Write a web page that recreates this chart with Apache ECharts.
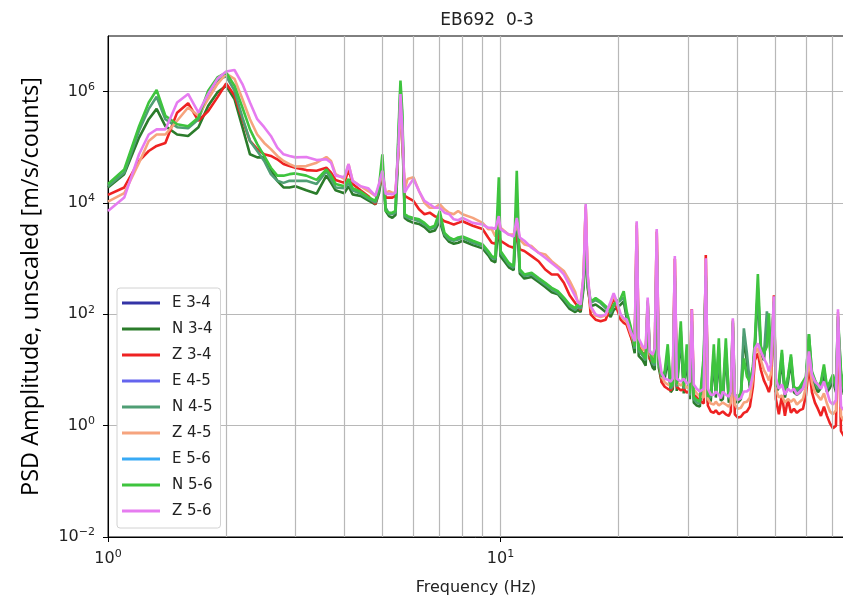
<!DOCTYPE html>
<html><head><meta charset="utf-8">
<script src="https://cdn.jsdelivr.net/npm/echarts@6/dist/echarts.min.js"></script>
<style>html,body{margin:0;padding:0;background:#fff}#c{width:843px;height:598px}</style>
</head><body><div id="c"></div>
<script>
// Frequency samples (Hz)
const freq = [
 1.0,1.1,1.2,1.27,1.33,1.4,1.5,1.6,1.7,1.8,1.9,2.0,2.1,2.2,2.3,2.4,2.5,2.6,2.7,2.8,2.9,3.0,
 3.2,3.4,3.6,3.7,3.8,4.0,4.1,4.2,4.4,4.6,4.8,4.9,5.0,5.1,
 5.2,5.3,5.4,5.5,5.56,5.62,5.7,5.8,6.0,6.2,6.4,6.6,6.8,7.0,7.2,7.4,7.6,7.8,8.0,8.5,9.0,9.3,9.5,9.7,9.9,10.0,10.5,10.8,11.0,11.2,11.5,12,12.5,13,13.5,14,14.5,15,15.5,
 15.72,16.0,16.28,16.48,16.67,16.97,17.47,17.99,18.53,19.08,
 19.42,19.77,20.24,20.6,20.96,21.46,21.97,22.23,22.49,23.02,
 23.43,23.71,23.99,24.42,24.71,25.0,25.3,25.74,26.2,26.67,
 27.14,27.47,27.8,28.12,28.79,29.3,29.82,30.35,30.71,31.07,
 31.62,32.19,32.95,33.34,33.74,34.33,34.95,35.36,35.99,36.41,
 36.84,37.5,38.16,38.61,39.07,39.53,40.23,40.95,41.68,42.43,
 43.18,43.95,44.46,45.25,46.06,46.88,47.71,48.28,48.85,49.72,
 50.29,51.19,52.1,53.03,53.97,54.94,55.91,56.9,57.92,58.94,
 59.99,61.05,62.14,63.24,64.37,65.51,66.68,67.86,69.07,70.3,
 71.55,72.4,73.69,75.0
];
const E34 = [];
const N34 = [
 1.9e4,3.3e4,1.5e5,3.2e5,4.9e5,2.4e5,1.7e5,1.6e5,2.3e5,5.6e5,9.7e5,1.28e6,7.4e5,2.3e5,7.5e4,6.6e4,6.6e4,4.0e4,2.5e4,1.9e4,1.9e4,2.0e4,
 1.69e4,1.47e4,3.1e4,2.3e4,1.69e4,1.5e4,2.0e4,1.43e4,1.34e4,1.12e4,9.5e3,1.47e4,3.5e4,7.2e3,
 5.8e3,5.4e3,6.1e3,1.14e5,6.9e5,2.0e5,5.4e3,4.9e3,4.4e3,4.2e3,3.7e3,3.0e3,3.2e3,4.7e3,2.5e3,2.0e3,1.85e3,1.93e3,2.1e3,1.75e3,1.53e3,1.16e3,920,860,4.7e3,1.11e3,700,620,5.4e3,540,440,470,380,310,250,230,170,125,110,
 120,110,300,2000,300,140,150,130,110,90,
 120,130,150,170,85,45,20,1500,18,15,
 12,120,16,11,10,1200,11,6.0,7.0,16,
 4.0,4.5,400,4.2,40,3.8,16,3.0,50,2.6,
 2.3,2.2,12,400,2.6,2.8,16,3.2,20,2.8,
 3.0,20,2.6,3.2,50,2.8,2.6,3.0,40,14,
 4.8,9.0,24,250,20,15,60,50,13,120,
 4.0,4.8,16,3.2,6.0,14,4.0,3.6,4.0,4.8,
 6.0,35,7.0,5.0,4.0,4.8,9.0,4.0,4.8,6.5,
 4.0,70,7.0,3.6
];
const Z34 = [
 1.4e4,1.9e4,5.7e4,8.6e4,1.06e5,1.2e5,4.2e5,6.2e5,3.0e5,4.5e5,7.9e5,1.4e6,8.5e5,3.2e5,1.3e5,9.3e4,7.5e4,7.0e4,6.1e4,5.0e4,4.6e4,4.3e4,
 3.9e4,3.8e4,4.3e4,3.5e4,2.6e4,2.3e4,4.0e4,2.2e4,1.69e4,1.34e4,9.5e3,1.76e4,3.1e4,1.25e4,
 1.25e4,1.25e4,1.34e4,9.9e4,7.9e5,1.7e5,1.34e4,1.25e4,1.09e4,7.7e3,6.3e3,6.7e3,5.8e3,5.4e3,4.7e3,4.4e3,4.1e3,4.4e3,4.7e3,3.9e3,3.4e3,2.4e3,1.93e3,1.85e3,2.7e3,2.1e3,1.68e3,1.57e3,2.7e3,1.47e3,1.37e3,1.11e3,900,640,520,520,370,220,160,
 140,120,450,8500,450,100,80,75,80,140,
 200,130,80,70,65,40,26,4000,28,20,
 19,160,16,14,18,3000,14,6.0,5.0,4.6,
 4.3,5.0,1000,5.0,4.3,4.6,3.9,4.3,125,3.6,
 3.2,2.8,2.5,1160,2.3,1.8,1.7,1.9,1.6,1.5,
 1.8,1.6,1.5,1.8,70,1.6,1.4,1.45,1.7,1.8,
 2.2,5.0,15,20,10,6.5,5.0,4.0,5.5,220,
 3.0,1.6,3.5,1.5,3.0,1.7,2.0,1.7,1.9,2.0,
 3.5,12,4.0,2.6,2.0,1.5,2.2,1.5,1.1,0.9,
 1.0,90,0.8,0.65
];
const E45 = [];
const N45 = [
 2.0e4,3.5e4,2.0e5,4.9e5,8.1e5,3.2e5,2.3e5,2.2e5,3.2e5,9.1e5,1.6e6,1.9e6,1.04e6,3.45e5,1.3e5,8.6e4,5.7e4,3.3e4,2.5e4,2.3e4,2.5e4,2.5e4,
 2.5e4,2.2e4,3.7e4,2.7e4,1.9e4,1.84e4,2.3e4,1.69e4,1.47e4,1.21e4,1.01e4,1.64e4,4.3e4,8.2e3,
 6.3e3,6.3e3,6.7e3,1.7e5,1.2e6,3.4e5,5.8e3,5.4e3,5.1e3,4.7e3,4.1e3,3.4e3,3.6e3,5.4e3,2.7e3,2.2e3,2.1e3,2.2e3,2.4e3,1.93e3,1.68e3,1.28e3,1.04e3,970,1.09e4,1.28e3,780,680,1.09e4,600,490,520,420,340,280,240,190,140,120,
 140,125,350,2500,350,160,180,160,130,105,
 140,160,180,200,100,55,24,1800,22,18,
 15,150,20,13,12,1400,13,7.0,8.5,20,
 4.6,5.2,450,5.0,50,4.6,20,3.5,60,3.0,
 2.6,2.5,15,450,3.0,3.3,20,3.8,25,3.3,
 3.5,25,3.0,3.8,60,3.3,3.0,3.5,56,20,
 5.6,10.5,28,300,24,18,113,60,16,150,
 4.6,5.6,20,3.8,7.0,17,4.6,4.2,4.6,5.6,
 7.0,44,8.5,6.0,4.6,5.6,11,4.6,5.6,7.5,
 4.6,80,8.5,4.2
];
const Z45 = [
 1.06e4,1.5e4,5.3e4,1.3e5,1.7e5,1.7e5,3.0e5,5.2e5,3.7e5,7.4e5,1.37e6,2.1e6,1.7e6,7.4e5,3.2e5,1.7e5,1.2e5,9.3e4,7.0e4,5.7e4,5.0e4,4.5e4,
 4.6e4,5.3e4,6.7e4,5.7e4,3.3e4,2.7e4,5.0e4,2.5e4,2.0e4,1.64e4,1.34e4,2.0e4,3.5e4,1.5e4,
 1.64e4,1.53e4,1.53e4,9.9e4,6.9e5,1.7e5,1.76e4,2.7e4,2.9e4,1.64e4,1.01e4,8.2e3,8.2e3,9.5e3,7.7e3,6.7e3,6.3e3,7.2e3,6.3e3,5.4e3,4.4e3,3.4e3,3.4e3,2.5e3,4.7e3,3.6e3,2.7e3,2.7e3,4.1e3,2.2e3,1.8e3,1.68e3,1.28e3,1.19e3,900,730,600,400,250,
 170,160,500,9000,500,130,95,90,95,160,
 220,160,95,80,75,45,30,4400,33,24,
 22,180,19,17,22,3200,17,7.5,6.0,5.5,
 5.3,6.0,1000,6.0,5.3,5.8,4.8,5.0,120,4.5,
 3.8,3.4,3.2,1000,3.0,2.5,2.4,2.7,2.3,2.2,
 2.6,2.4,2.2,2.6,80,2.4,2.0,2.1,2.6,2.7,
 3.2,7.0,20,25,15,10,8.0,6.5,8.5,190,
 4.5,3.2,3.5,2.6,3.0,2.7,3.0,2.4,2.7,3.0,
 5.0,15,6.0,4.0,3.4,2.9,3.8,2.5,1.8,1.6,
 1.9,110,1.5,1.2
];
const E56 = [];
const N56 = [
 2.2e4,4.0e4,2.4e5,6.4e5,1.07e6,3.7e5,2.6e5,2.4e5,3.45e5,1.04e6,1.8e6,2.2e6,1.28e6,5.2e5,2.1e5,1.14e5,7.0e4,4.3e4,3.1e4,3.1e4,3.3e4,3.4e4,
 3.1e4,2.6e4,4.0e4,3.1e4,2.2e4,2.0e4,2.7e4,1.84e4,1.6e4,1.28e4,1.09e4,1.9e4,7.5e4,7.2e3,
 6.7e3,6.7e3,7.2e3,2.3e5,1.58e6,4.5e5,6.3e3,5.8e3,5.4e3,5.1e3,4.4e3,3.6e3,3.9e3,7.2e3,2.9e3,2.4e3,2.2e3,2.4e3,2.5e3,2.1e3,1.8e3,1.37e3,1.11e3,1.04e3,2.9e4,1.37e3,840,730,3.8e4,640,520,560,450,370,300,260,200,150,130,
 150,140,390,3000,390,170,195,170,140,113,
 150,170,195,260,113,60,26.5,2000,24.4,20,
 16.1,170,23,14.2,13.5,1500,14.2,7.6,9.4,29,
 5.0,5.7,500,5.5,75,5.0,29,3.8,75,3.3,
 2.9,2.7,19,500,3.3,3.6,29,4.1,37,3.6,
 3.8,37,3.3,4.1,75,3.6,3.3,3.8,16.1,7.6,
 6.2,11.6,33,530,26.5,20,26.5,104,17.5,170,
 5.0,6.2,23,4.1,7.6,19,5.0,4.6,5.0,6.2,
 7.6,44,9.4,6.7,5.0,6.2,12.6,5.0,6.2,8.3,
 5.0,92,9.4,4.6
];
const Z56 = [
 7.2e3,1.25e4,7.5e4,1.7e5,2.1e5,2.1e5,6.4e5,9.1e5,4.2e5,9.1e5,1.7e6,2.3e6,2.45e6,1.37e6,6.4e5,3.2e5,2.3e5,1.6e5,9.9e4,7.5e4,7.0e4,6.6e4,
 6.7e4,5.9e4,6.1e4,5.3e4,3.1e4,2.9e4,5.0e4,2.5e4,2.0e4,1.84e4,1.34e4,2.2e4,3.8e4,1.45e4,
 1.47e4,1.43e4,1.53e4,1.14e5,9.1e5,2.3e5,1.53e4,1.9e4,2.7e4,1.64e4,1.09e4,9.5e3,8.2e3,8.2e3,6.7e3,6.3e3,5.1e3,4.9e3,5.4e3,4.4e3,4.1e3,3.6e3,3.6e3,3.4e3,5.8e3,3.4e3,2.7e3,2.5e3,5.4e3,2.4e3,2.1e3,1.57e3,1.28e3,1.04e3,840,680,520,330,210,
 170,150,530,9600,530,140,100,92,100,170,
 240,170,100,85,81,49,33,4700,37,26.5,
 24.4,200,21.5,19,24.4,3400,19,8.6,7.0,6.7,
 6.2,7.0,1110,7.0,6.2,7.0,5.7,6.2,123,5.5,
 4.6,4.1,4.6,1020,4.6,3.6,3.6,4.1,3.6,3.1,
 4.1,3.6,3.3,4.1,85,3.6,2.9,3.1,4.1,4.1,
 4.6,8.3,24.4,30,21.5,16.1,12.6,9.4,12.6,210,
 7.0,4.6,5.5,3.6,4.6,4.1,4.6,3.6,4.1,4.6,
 7.0,21.5,8.3,6.2,5.5,4.6,6.2,4.1,2.7,2.4,
 2.9,123,2.2,1.9
];

const seriesNames = ['E 3-4','N 3-4','Z 3-4','E 4-5','N 4-5','Z 4-5','E 5-6','N 5-6','Z 5-6'];
const seriesValues = [E34, N34, Z34, E45, N45, Z45, E56, N56, Z56];
const seriesColors = ['#3434a6','#2b7c2b','#ee2222','#6464ee','#4f9e74','#f6a47e','#38aaf5','#3ec43e','#e67cf0'];
const minorGridX = [2,3,4,5,6,7,8,9,20,30,40,50,60,70];
const yTickValues = [0.01, 1, 100, 1e4, 1e6];

const chart = echarts.init(document.getElementById('c'), null, {renderer:'canvas'});
const supFmt = (v, skipOdd) => {
  const l = Math.log10(v);
  const e = Math.round(l);
  if (Math.abs(l - e) > 1e-6) return '';
  if (skipOdd && Math.abs(e % 2) === 1) return '';
  return '{b|10}{s|' + (e < 0 ? '\u2212' + (-e) : e) + '}';
};
const rich = {
  b: {fontFamily:'DejaVu Sans', fontSize:16, color:'#222'},
  s: {fontFamily:'DejaVu Sans', fontSize:11, color:'#222', padding:[0,0,9,0]}
};
const gridLineStyle = {color:'#b8b8b8', width:1.2};

const series = seriesNames.map((name, i) => {
  const s = {
    name, type:'line', showSymbol:false, symbol:'none', color: seriesColors[i],
    lineStyle:{width:2.6, color: seriesColors[i]},
    data: freq.slice(0, seriesValues[i].length).map((f, k) => [f, seriesValues[i][k]]),
    z: 2
  };
  if (i === 0) {
    s.markLine = {silent:true, symbol:'none', label:{show:false}, animation:false,
      lineStyle:{color:'#b8b8b8', width:1.2, type:'solid'},
      data: minorGridX.map(v => ({xAxis: v}))};
  }
  return s;
});

chart.setOption({
  animation:false,
  backgroundColor:'#fff',
  title:{text:'EB692  0-3', left:482, top:7, textAlign:'center',
    textStyle:{fontFamily:'DejaVu Sans', fontSize:17, fontWeight:'normal', color:'#222'}},
  grid:{left:108, top:36, right:-1, bottom:61, show:true, borderColor:'#000', borderWidth:1,
    backgroundColor:'#fff', containLabel:false, outerBoundsMode:'none'},
  legend:{orient:'vertical', left:117, top:288, itemWidth:38, itemHeight:3, itemGap:8, icon:'rect',
    selectedMode:false, backgroundColor:'#fff', borderColor:'#d2d2d2', borderWidth:1, borderRadius:3,
    padding:[6,8,8,5],
    textStyle:{fontFamily:'DejaVu Sans', fontSize:15, color:'#222', lineHeight:18, padding:[0,0,0,7]},
    data: seriesNames},
  xAxis:{type:'log', logBase:10, min:1, max:75,
    name:'Frequency (Hz)', nameLocation:'middle', nameGap:43,
    nameTextStyle:{fontFamily:'DejaVu Sans', fontSize:16, color:'#222'},
    axisLine:{show:true, lineStyle:{color:'#000', width:1}},
    axisTick:{show:true, inside:false, length:5, lineStyle:{color:'#000'}},
    axisLabel:{margin:12, formatter: v => supFmt(v, false), rich},
    splitLine:{show:true, lineStyle:gridLineStyle}},
  yAxis:{type:'log', logBase:100, min:0.01, max:1e7,
    name:'PSD Amplitude, unscaled [m/s/counts]', nameLocation:'middle', nameGap:65, nameRotate:90,
    nameTextStyle:{fontFamily:'Open Sans', fontSize:23.5, color:'#000'},
    axisLine:{show:true, lineStyle:{color:'#000', width:1}},
    axisTick:{show:true, inside:false, length:5, lineStyle:{color:'#000'}, customValues: yTickValues},
    axisLabel:{margin:13, formatter: v => supFmt(v, true), rich},
    splitLine:{show:true, lineStyle:gridLineStyle}},
  series
});
</script></body></html>
